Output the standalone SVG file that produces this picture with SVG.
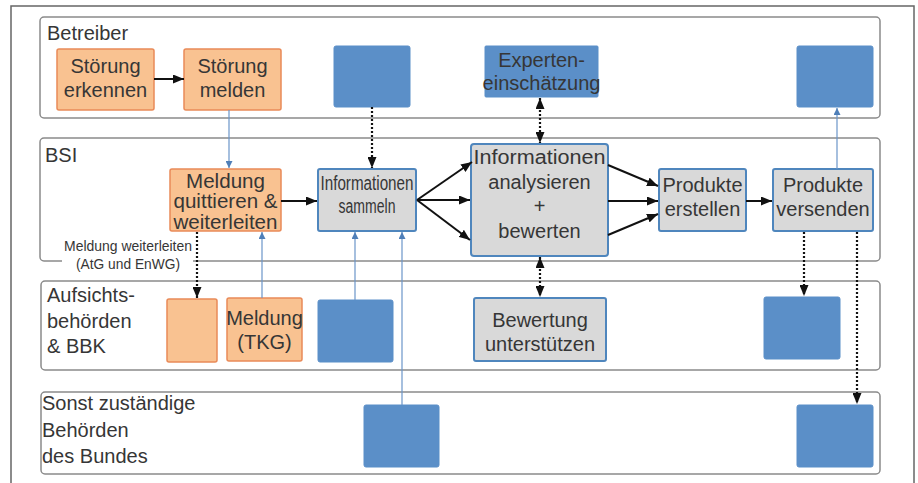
<svg xmlns="http://www.w3.org/2000/svg" width="918" height="483" viewBox="0 0 918 483">
<defs>
<style>
text{font-family:"Liberation Sans",Arial,sans-serif;fill:#363636;}
.lane{fill:#fff;stroke:#8a8a8a;stroke-width:1.5;}
.lbl{font-size:20px;}
.org{fill:#f9c291;stroke:#e98a58;stroke-width:1.5;}
.blu{fill:#5b8fc8;stroke:#5b8fc8;stroke-width:1;}
.gry{fill:#d9d9d9;stroke:#4f86bd;stroke-width:2;}
.t{font-size:20px;text-anchor:middle;}
.solid{stroke:#111;stroke-width:2;fill:none;marker-end:url(#ah);}
.dot{stroke:#111;stroke-width:2.2;stroke-dasharray:2 2;fill:none;marker-end:url(#ah);}
.dbl{marker-start:url(#ah);}
.thin{stroke:#6b95c9;stroke-width:1.2;fill:none;marker-end:url(#bh);}
</style>
<marker id="ah" markerUnits="userSpaceOnUse" markerWidth="11" markerHeight="9" refX="11" refY="4.5" orient="auto-start-reverse"><path d="M0,0 L11,4.5 L0,9 z" fill="#111"/></marker>
<marker id="bh" markerUnits="userSpaceOnUse" markerWidth="7" markerHeight="7" refX="7" refY="3.5" orient="auto"><path d="M0,0 L7,3.5 L0,7 z" fill="#4f7fb8"/></marker>
</defs>
<rect x="0" y="0" width="918" height="483" fill="#fff"/>
<rect x="11" y="6" width="903" height="500" fill="none" stroke="#666" stroke-width="1.5"/>

<g id="lanes">
<rect class="lane" x="40" y="17" width="840" height="101" rx="4"/>
<text class="lbl" x="47" y="40">Betreiber</text>
<rect class="lane" x="40" y="138" width="840" height="123" rx="4"/>
<text class="lbl" x="45" y="162">BSI</text>
<rect class="lane" x="41" y="281" width="839" height="89" rx="4"/>
<text class="lbl" x="47" y="302">Aufsichts-<tspan x="47" dy="26">behörden</tspan><tspan x="47" dy="25">&amp; BBK</tspan></text>
<rect class="lane" x="41" y="392" width="839" height="82" rx="4"/>
<text class="lbl" x="42" y="410">Sonst zuständige<tspan x="42" dy="27">Behörden</tspan><tspan x="42" dy="26">des Bundes</tspan></text>
</g>

<g id="n_stoerung_erkennen">
<rect class="org" x="57" y="49" width="97" height="61" rx="2"/>
<text class="t" x="105.5" y="73">Störung<tspan x="105.5" dy="24">erkennen</tspan></text>
</g>
<g id="n_stoerung_melden">
<rect class="org" x="184" y="49" width="97" height="61" rx="2"/>
<text class="t" x="232.5" y="73">Störung<tspan x="232.5" dy="24">melden</tspan></text>
</g>
<g id="n_betreiber_blue1"><rect class="blu" x="334" y="46" width="76" height="61" rx="2"/></g>
<g id="n_experten">
<rect class="blu" x="485" y="46" width="113" height="51" rx="1"/>
<text class="t" x="541.5" y="67" font-size="19">Experten-<tspan x="541.5" dy="23">einschätzung</tspan></text>
</g>
<g id="n_betreiber_blue2"><rect class="blu" x="797" y="46" width="76" height="61" rx="2"/></g>

<g id="n_meldung_quittieren">
<rect class="org" x="170" y="169" width="111" height="62" rx="2"/>
<text class="t" x="225.5" y="187.5" font-size="18.3"><tspan textLength="79" lengthAdjust="spacingAndGlyphs">Meldung</tspan><tspan x="225.5" dy="20.5" textLength="104" lengthAdjust="spacingAndGlyphs">quittieren &amp;</tspan><tspan x="225.5" dy="20.5" textLength="104" lengthAdjust="spacingAndGlyphs">weiterleiten</tspan></text>
</g>
<g id="n_info_sammeln">
<rect class="gry" x="318" y="169" width="98" height="62" rx="2"/>
<text class="t" x="367" y="190" font-size="17"><tspan textLength="93" lengthAdjust="spacingAndGlyphs">Informationen</tspan><tspan x="367" dy="23" textLength="57" lengthAdjust="spacingAndGlyphs">sammeln</tspan></text>
</g>
<g id="n_info_analysieren">
<rect class="gry" x="471" y="144" width="137" height="112" rx="3"/>
<text class="t" x="539.5" y="164" font-size="21"><tspan textLength="132" lengthAdjust="spacingAndGlyphs">Informationen</tspan><tspan x="539.5" dy="25">analysieren</tspan><tspan x="539.5" dy="24">+</tspan><tspan x="539.5" dy="25">bewerten</tspan></text>
</g>
<g id="n_produkte_erstellen">
<rect class="gry" x="659" y="169" width="87" height="62" rx="2"/>
<text class="t" x="702.5" y="192">Produkte<tspan x="702.5" dy="24">erstellen</tspan></text>
</g>
<g id="n_produkte_versenden">
<rect class="gry" x="773" y="169" width="100" height="62" rx="2"/>
<text class="t" x="823" y="192">Produkte<tspan x="823" dy="24">versenden</tspan></text>
</g>

<g id="n_aufsicht_orange"><rect class="org" x="167" y="299" width="50" height="63" rx="2"/></g>
<g id="n_meldung_tkg">
<rect class="org" x="227" y="298" width="75" height="63" rx="2"/>
<text class="t" x="264.5" y="325" font-size="18">Meldung<tspan x="264.5" dy="24">(TKG)</tspan></text>
</g>
<g id="n_aufsicht_blue1"><rect class="blu" x="318" y="300" width="75" height="62" rx="2"/></g>
<g id="n_bewertung">
<rect class="gry" x="474" y="298" width="132" height="63" rx="2"/>
<text class="t" x="540" y="327" font-size="20.5">Bewertung<tspan x="540" dy="24">unterstützen</tspan></text>
</g>
<g id="n_aufsicht_blue2"><rect class="blu" x="764" y="297" width="76" height="62" rx="2"/></g>
<g id="n_sonst_blue1"><rect class="blu" x="364" y="405" width="75" height="62" rx="2"/></g>
<g id="n_sonst_blue2"><rect class="blu" x="797" y="405" width="76" height="62" rx="2"/></g>

<g id="label_weiterleiten">
<rect x="62" y="236" width="131" height="36" fill="#fff"/>
<text x="128" y="251" font-size="15" text-anchor="middle"><tspan textLength="128" lengthAdjust="spacingAndGlyphs">Meldung weiterleiten</tspan><tspan x="128" dy="18" textLength="104" lengthAdjust="spacingAndGlyphs">(AtG und EnWG)</tspan></text>
</g>

<g id="connectors">
<line class="solid" x1="154" y1="79" x2="184" y2="79"/>
<line class="thin" x1="229" y1="110" x2="229" y2="168"/>
<line class="dot" x1="372" y1="107" x2="372" y2="168"/>
<line class="dot dbl" x1="540" y1="98" x2="540" y2="143"/>
<line class="thin" x1="837" y1="169" x2="837" y2="108"/>
<line class="solid" x1="281" y1="201" x2="317" y2="201"/>
<line class="solid" x1="417" y1="200" x2="472" y2="162"/>
<line class="solid" x1="417" y1="200" x2="470" y2="200"/>
<line class="solid" x1="417" y1="200" x2="470" y2="240"/>
<line class="solid" x1="608" y1="165" x2="658" y2="186"/>
<line class="solid" x1="608" y1="201" x2="658" y2="201"/>
<line class="solid" x1="608" y1="235" x2="658" y2="214"/>
<line class="solid" x1="746" y1="201" x2="772" y2="201"/>
<line class="dot" x1="197" y1="232" x2="197" y2="298"/>
<line class="thin" x1="262" y1="298" x2="262" y2="232"/>
<line class="thin" x1="355" y1="300" x2="355" y2="232"/>
<line class="thin" x1="402" y1="405" x2="402" y2="232"/>
<line class="dot dbl" x1="540" y1="257" x2="540" y2="297"/>
<line class="dot" x1="804" y1="232" x2="804" y2="296"/>
<line class="dot" x1="857" y1="232" x2="857" y2="404"/>
</g>
</svg>
